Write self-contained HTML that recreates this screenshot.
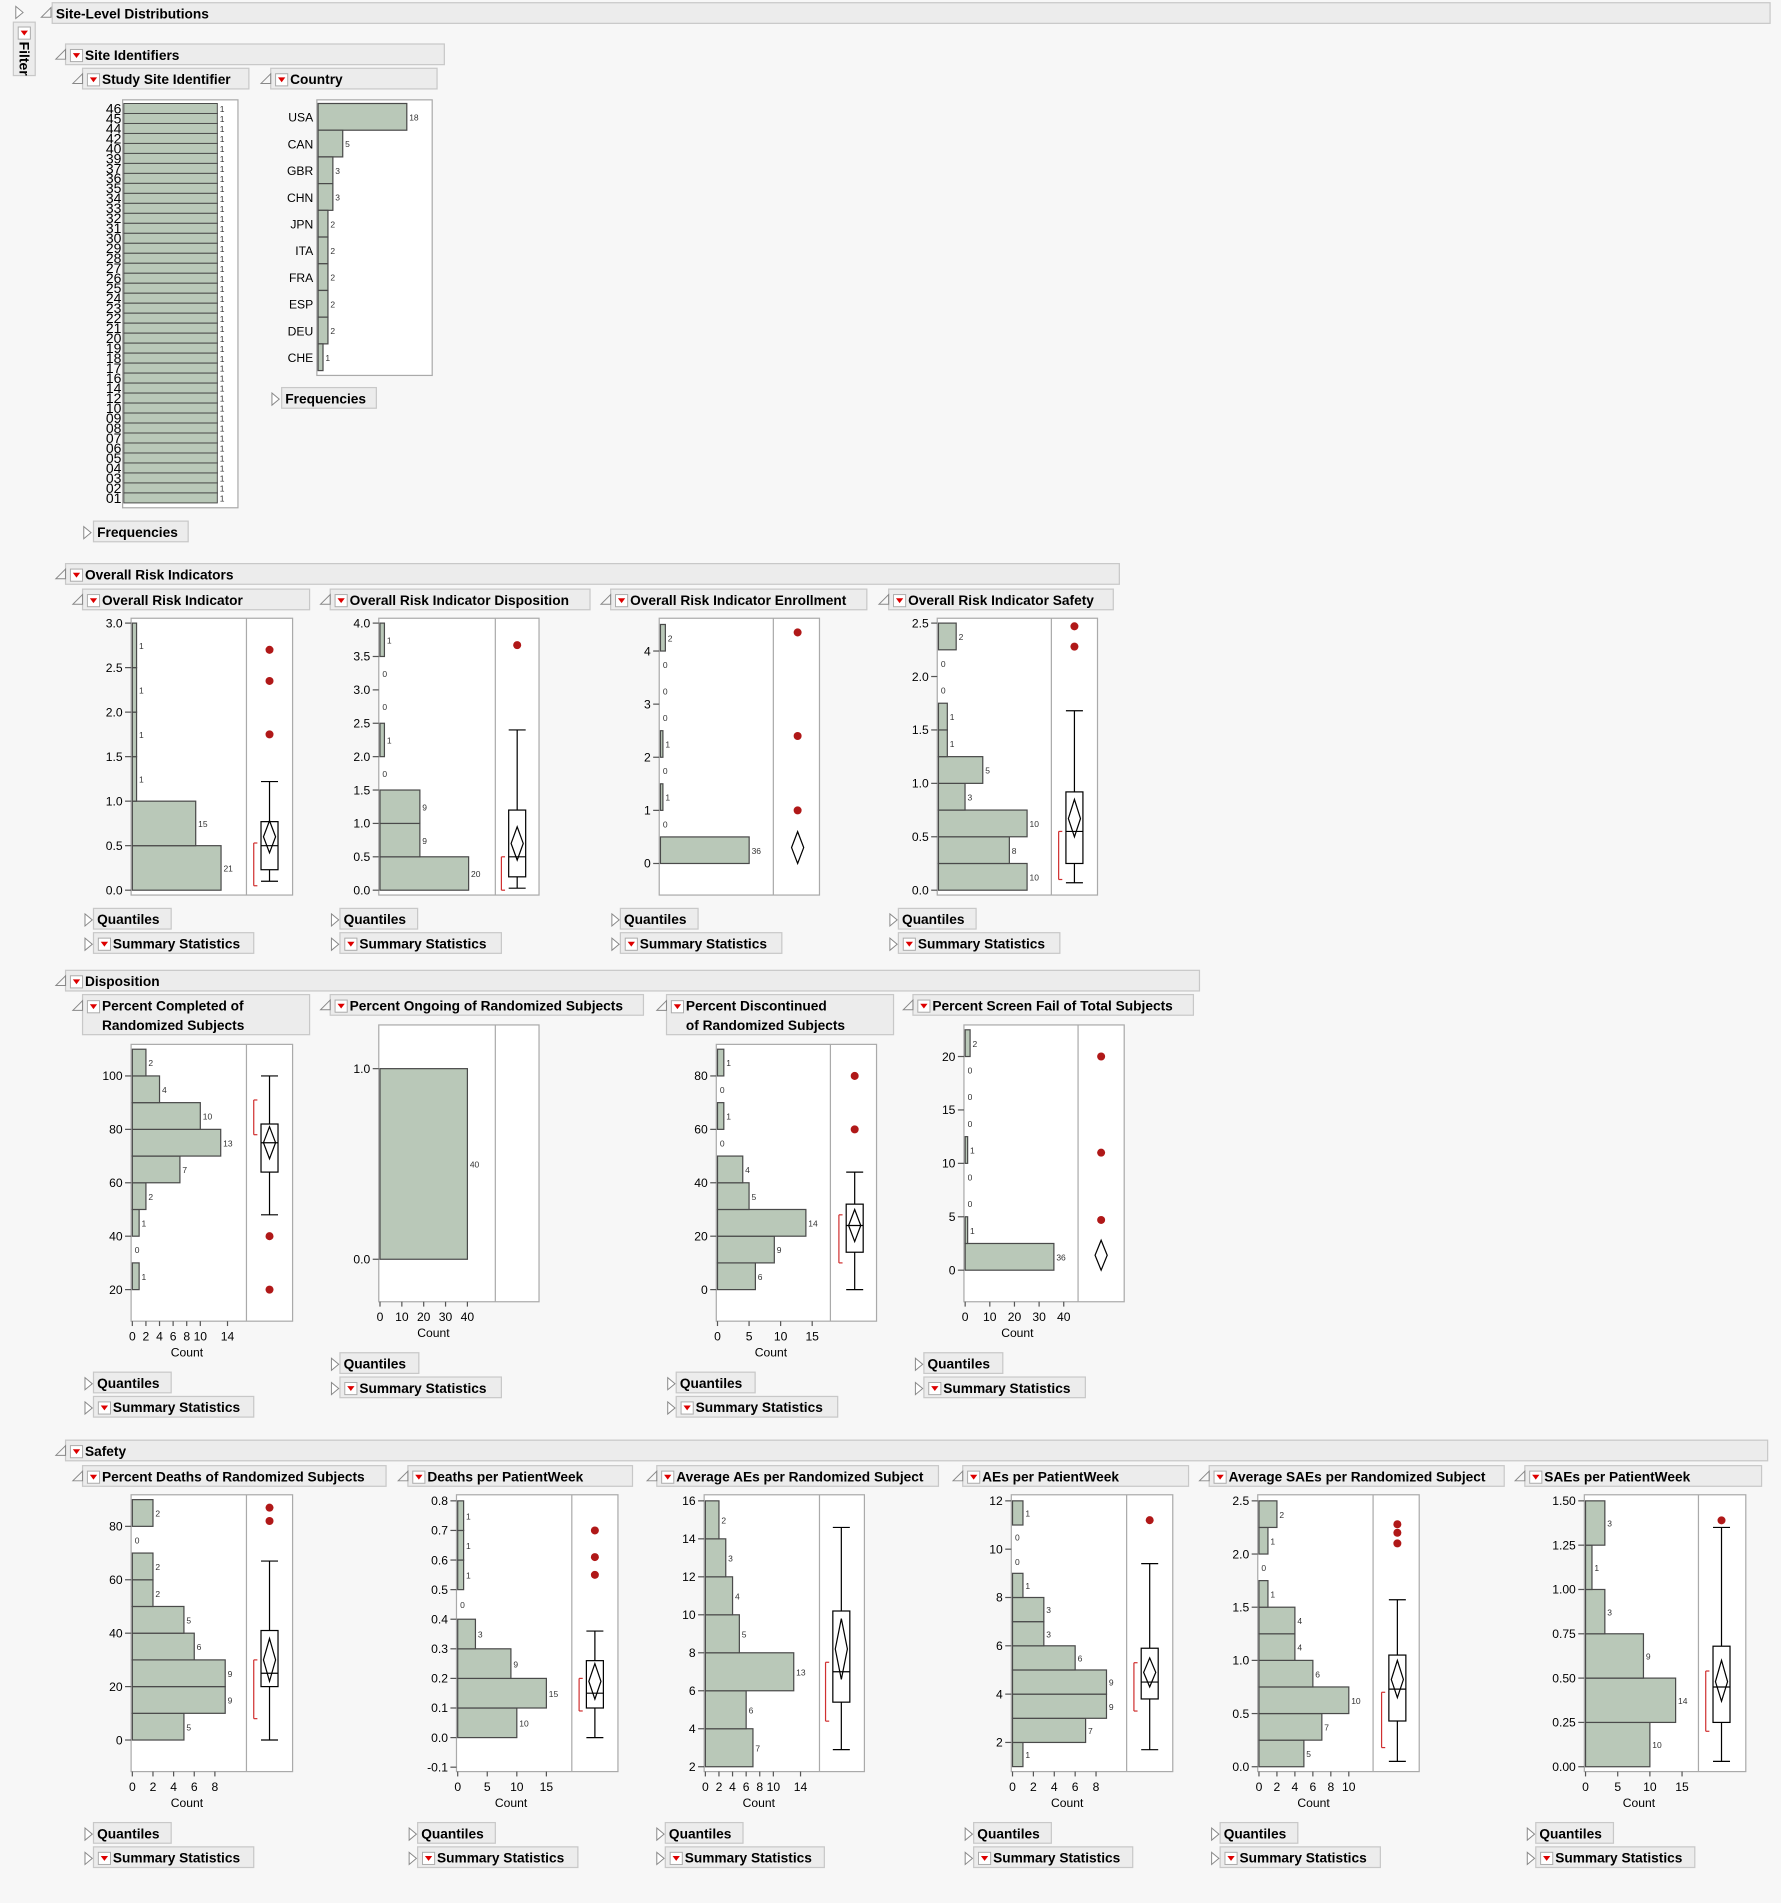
<!DOCTYPE html>
<html><head><meta charset="utf-8"><style>
html,body{margin:0;padding:0;background:#f7f7f7;}
svg{display:block;}
text{font-family:"Liberation Sans",sans-serif;}
</style></head><body>
<svg id="s" width="1781" height="1903" viewBox="0 0 1467 1567" xmlns="http://www.w3.org/2000/svg"></svg>
<script>
const S=document.getElementById('s');let H='';
function r(x,y,w,h,f,s,sw){H+=`<rect x="${x}" y="${y}" width="${w}" height="${h}" fill="${f}" stroke="${s||'none'}" stroke-width="${sw||1}"/>`;}
function l(x1,y1,x2,y2,c,w){H+=`<line x1="${x1}" y1="${y1}" x2="${x2}" y2="${y2}" stroke="${c||'#000'}" stroke-width="${w||1}"/>`;}
function t(x,y,s,sz,a,wt,c){H+=`<text x="${x}" y="${y}" font-size="${sz}" text-anchor="${a||'start'}" font-weight="${wt||'normal'}" fill="${c||'#000'}">${s}</text>`;}
function openTri(x,y){H+=`<path d="M${x+6} ${y-4} L${x+6} ${y+4} L${x-2} ${y+4} Z" fill="none" stroke="#888" stroke-width="0.8"/>`;}
function closedTri(x,y){H+=`<path d="M${x-3} ${y-5} L${x+3} ${y} L${x-3} ${y+5} Z" fill="#fff" stroke="#888" stroke-width="0.8"/>`;}
function red(x,y){r(x,y-5,10,10,'#fff','#aaa',0.8);H+=`<path d="M${x+2} ${y-2} L${x+8} ${y-2} L${x+5} ${y+2} Z" fill="#d00"/>`;}
function hdr(x1,y1,x2,y2,txt,tri,rd,closed){r(x1,y1,x2-x1,y2-y1,'#ececec','#c8c8c8',1);
 const lines=txt.split('|');const two=lines.length>1;
 const cy=two?y1+9:(y1+y2)/2; if(closed)closedTri(tri,cy+1);else openTri(tri,cy);
 let tx=x1+3; if(rd){red(x1+4,cy+1);tx=x1+16;}
 const fs=11.3;
 if(!two)t(tx,cy+4.5,txt,fs,'start','bold');
 else{t(tx,y1+13,lines[0],fs,'start','bold');t(tx,y1+29,lines[1],fs,'start','bold');}}
function qs(tri,x,y,qw,sw){hdr(x,y,x+qw,y+17,'Quantiles',tri,false,true);hdr(x,y+20,x+sw,y+37,'Summary Statistics',tri,true,true);}
function chart(o){
 const {x0,x1,xd,y0,y1}=o; r(x0,y0,x1-x0,y1-y0,'#fff','#aaa',1); l(xd,y0,xd,y1,'#aaa');
 const Y=v=>o.p1+(v-o.v1)*(o.p2-o.p1)/(o.v2-o.v1);
 o.ticks.forEach(v=>{const y=Y(v);l(x0-5,y,x0,y,'#555');t(x0-7,y+3.5,o.fmt(v),10,'end');});
 o.bins.forEach(([a,b,c])=>{const ya=Y(b),yb=Y(a);const w=c*o.cs;if(c>0)r(x0+1,ya,w,yb-ya,'#b9c8b8','#4a4a4a',1);
   t(x0+3+w,(ya+yb)/2+3,c,7,'start','normal','#333');});
 const bx=o.bx;
 if(o.br){l(bx-13,Y(o.br[0]),bx-13,Y(o.br[1]),'#d03030');l(bx-13,Y(o.br[0]),bx-10,Y(o.br[0]),'#d03030');l(bx-13,Y(o.br[1]),bx-10,Y(o.br[1]),'#d03030');}
 if(o.wh){l(bx,Y(o.wh[0]),bx,Y(o.wh[1]));l(bx-7,Y(o.wh[0]),bx+7,Y(o.wh[0]));l(bx-7,Y(o.wh[1]),bx+7,Y(o.wh[1]));}
 if(o.q){r(bx-7,Y(o.q[2]),14,Y(o.q[0])-Y(o.q[2]),'#fff','#000',1);l(bx-7,Y(o.q[1]),bx+7,Y(o.q[1]));}
 if(o.dm){const a=Y(o.dm[0]),m=Y(o.dm[1]),b=Y(o.dm[2]);H+=`<path d="M${bx} ${a} L${bx+5} ${m} L${bx} ${b} L${bx-5} ${m} Z" fill="none" stroke="#000" stroke-width="1"/>`;}
 (o.out||[]).forEach(v=>{H+=`<circle cx="${bx}" cy="${Y(v)}" r="3.3" fill="#b01818"/>`;});
 if(o.line){l(bx-8,Y(o.line),bx+7,Y(o.line));}
 if(o.xt){o.xt.forEach(c=>{const x=x0+1+c*o.cs;l(x,y1,x,y1+4,'#555');t(x,y1+16,c,10,'middle');});t(o.cx,y1+29,'Count',10,'middle');}
}
// top
r(43,2,1415,17,'#ececec','#c8c8c8',1);t(46,15,'Site-Level Distributions',11.3,'start','bold');openTri(36,10);closedTri(16,10);
r(11,18,18,44,'#ececec','#c8c8c8',1);red(15,27);H+=`<text x="0" y="0" font-size="11.5" font-weight="bold" transform="translate(16,34) rotate(90)">Filter</text>`;
hdr(54,36,366,53,'Site Identifiers',48,true);
hdr(68,56,205,73,'Study Site Identifier',62,true);
hdr(223,56,360,73,'Country',217,true);
// study site
r(101,82,95,336,'#fff','#aaa',1);
const ids=['46','45','44','42','40','39','37','36','35','34','33','32','31','30','29','28','27','26','25','24','23','22','21','20','19','18','17','16','14','12','10','09','08','07','06','05','04','03','02','01'];
const bh=(414-85)/40;
ids.forEach((s,i)=>{const y=85+i*bh;r(102,y,77,bh,'#b9c8b8','#4a4a4a',0.8);t(100,y+bh/2+4,s,11.5,'end');t(181,y+bh/2+3,'1',7,'start','normal','#333');});
// country
r(261,82,95,227,'#fff','#aaa',1);
[['USA',18],['CAN',5],['GBR',3],['CHN',3],['JPN',2],['ITA',2],['FRA',2],['ESP',2],['DEU',2],['CHE',1]].forEach(([c,n],i)=>{const y=85+i*22;r(262,y,n*4.06,22,'#b9c8b8','#4a4a4a',1);t(258,y+15,c,10,'end');t(264+n*4.06,y+14,n,7,'start','normal','#333');});
hdr(232,319,310,336,'Frequencies',227,false,true);
hdr(77,429,155,446,'Frequencies',72,false,true);
// ORI
hdr(54,464,922,481,'Overall Risk Indicators',48,true);
hdr(68,485,255,502,'Overall Risk Indicator',62,true);
hdr(272,485,486,502,'Overall Risk Indicator Disposition',266,true);
hdr(503,485,714,502,'Overall Risk Indicator Enrollment',497,true);
hdr(732,485,917,502,'Overall Risk Indicator Safety',726,true);
const f1=v=>v.toFixed(1);
chart({x0:108,x1:241,xd:203,y0:509,y1:737,v1:0,p1:733,v2:3,p2:513,ticks:[0,.5,1,1.5,2,2.5,3],fmt:f1,
 bins:[[0,.5,21],[.5,1,15],[1,1.5,1],[1.5,2,1],[2,2.5,1],[2.5,3,1]],cs:3.48,bx:222,wh:[.1,1.22],q:[.23,.5,.77],dm:[.42,.6,.78],out:[1.75,2.35,2.7],br:[.05,.53]});
chart({x0:312,x1:444,xd:408,y0:509,y1:737,v1:0,p1:733,v2:4,p2:513,ticks:[0,.5,1,1.5,2,2.5,3,3.5,4],fmt:f1,
 bins:[[0,.5,20],[.5,1,9],[1,1.5,9],[1.5,2,0],[2,2.5,1],[2.5,3,0],[3,3.5,0],[3.5,4,1]],cs:3.65,bx:426,wh:[.03,2.4],q:[.2,.5,1.2],dm:[.45,.7,.95],out:[3.67],br:[0,.5]});
chart({x0:543,x1:675,xd:637,y0:509,y1:737,v1:0,p1:711,v2:4,p2:536,ticks:[0,1,2,3,4],fmt:v=>v,
 bins:[[0,.5,36],[.5,1,0],[1,1.5,1],[1.5,2,0],[2,2.5,1],[2.5,3,0],[3,3.5,0],[3.5,4,0],[4,4.5,2]],cs:2.03,bx:657,dm:[0,.3,.6],line:0,out:[4.35,2.4,1.0]});
chart({x0:772,x1:904,xd:866,y0:509,y1:737,v1:0,p1:733,v2:2.5,p2:513,ticks:[0,.5,1,1.5,2,2.5],fmt:f1,
 bins:[[0,.25,10],[.25,.5,8],[.5,.75,10],[.75,1,3],[1,1.25,5],[1.25,1.5,1],[1.5,1.75,1],[1.75,2,0],[2,2.25,0],[2.25,2.5,2]],cs:7.3,bx:885,wh:[.07,1.68],q:[.25,.55,.92],dm:[.5,.67,.85],out:[2.28,2.47],br:[.1,.55]});
qs(73,77,748,64,132);qs(276,280,748,64,133);qs(507,511,748,64,133);qs(736,740,748,64,133);
// Disposition
hdr(54,799,988,816,'Disposition',48,true);
hdr(68,819,255,852,'Percent Completed of|Randomized Subjects',62,true);
hdr(272,819,530,836,'Percent Ongoing of Randomized Subjects',266,true);
hdr(549,819,736,852,'Percent Discontinued|of Randomized Subjects',543,true);
hdr(752,819,983,836,'Percent Screen Fail of Total Subjects',746,true);
chart({x0:108,x1:241,xd:203,y0:860,y1:1088,v1:20,p1:1062,v2:100,p2:886,ticks:[20,40,60,80,100],fmt:v=>v,
 bins:[[20,30,1],[30,40,0],[40,50,1],[50,60,2],[60,70,7],[70,80,13],[80,90,10],[90,100,4],[100,110,2]],cs:5.6,bx:222,wh:[48,100],q:[64,75,82],dm:[69,75,81],out:[40,20],br:[78,91],xt:[0,2,4,6,8,10,14],cx:154});
chart({x0:312,x1:444,xd:408,y0:844,y1:1072,v1:0,p1:1037,v2:1,p2:880,ticks:[0,1],fmt:f1,
 bins:[[0,1,40]],cs:1.8,bx:426,line:0,xt:[0,10,20,30,40],cx:357});
chart({x0:590,x1:722,xd:684,y0:860,y1:1088,v1:0,p1:1062,v2:80,p2:886,ticks:[0,20,40,60,80],fmt:v=>v,
 bins:[[0,10,6],[10,20,9],[20,30,14],[30,40,5],[40,50,4],[50,60,0],[60,70,1],[70,80,0],[80,90,1]],cs:5.2,bx:704,wh:[0,44],q:[14,24,32],dm:[18,24,30],out:[80,60],br:[10,28],xt:[0,5,10,15],cx:635});
chart({x0:794,x1:926,xd:888,y0:844,y1:1072,v1:0,p1:1046,v2:20,p2:870,ticks:[0,5,10,15,20],fmt:v=>v,
 bins:[[0,2.5,36],[2.5,5,1],[5,7.5,0],[7.5,10,0],[10,12.5,1],[12.5,15,0],[15,17.5,0],[17.5,20,0],[20,22.5,2]],cs:2.03,bx:907,dm:[0,1.4,2.8],line:0,out:[20,11,4.7],xt:[0,10,20,30,40],cx:838});
qs(73,77,1130,64,132);qs(276,280,1114,65,133);qs(553,557,1130,65,133);qs(757,761,1114,65,133);
// Safety
hdr(54,1186,1456,1203,'Safety',48,true);
hdr(68,1207,318,1224,'Percent Deaths of Randomized Subjects',62,true);
hdr(336,1207,521,1224,'Deaths per PatientWeek',330,true);
hdr(541,1207,773,1224,'Average AEs per Randomized Subject',535,true);
hdr(793,1207,979,1224,'AEs per PatientWeek',787,true);
hdr(996,1207,1239,1224,'Average SAEs per Randomized Subject',990,true);
hdr(1256,1207,1451,1224,'SAEs per PatientWeek',1250,true);
chart({x0:108,x1:241,xd:203,y0:1231,y1:1459,v1:0,p1:1433,v2:80,p2:1257,ticks:[0,20,40,60,80],fmt:v=>v,
 bins:[[0,10,5],[10,20,9],[20,30,9],[30,40,6],[40,50,5],[50,60,2],[60,70,2],[70,80,0],[80,90,2]],cs:8.5,bx:222,wh:[0,67],q:[20,25,41],dm:[22,30,38],out:[82,87],br:[8,30],xt:[0,2,4,6,8],cx:154});
chart({x0:376,x1:509,xd:471,y0:1231,y1:1459,v1:0,p1:1431,v2:.8,p2:1236,ticks:[-.1,0,.1,.2,.3,.4,.5,.6,.7,.8],fmt:f1,
 bins:[[0,.1,10],[.1,.2,15],[.2,.3,9],[.3,.4,3],[.4,.5,0],[.5,.6,1],[.6,.7,1],[.7,.8,1]],cs:4.87,bx:490,wh:[0,.36],q:[.1,.15,.26],dm:[.13,.19,.25],out:[.55,.61,.7],br:[.09,.2],xt:[0,5,10,15],cx:421});
chart({x0:580,x1:712,xd:675,y0:1231,y1:1459,v1:2,p1:1455,v2:16,p2:1236,ticks:[2,4,6,8,10,12,14,16],fmt:v=>v,
 bins:[[2,4,7],[4,6,6],[6,8,13],[8,10,5],[10,12,4],[12,14,3],[14,16,2]],cs:5.6,bx:693,wh:[2.9,14.6],q:[5.4,7,10.2],dm:[6.6,8.2,9.8],br:[4.4,7.5],xt:[0,2,4,6,8,10,14],cx:625});
chart({x0:833,x1:966,xd:928,y0:1231,y1:1459,v1:2,p1:1435,v2:12,p2:1236,ticks:[2,4,6,8,10,12],fmt:v=>v,
 bins:[[1,2,1],[2,3,7],[3,4,9],[4,5,9],[5,6,6],[6,7,3],[7,8,3],[8,9,1],[9,10,0],[10,11,0],[11,12,1]],cs:8.6,bx:947,wh:[1.7,9.4],q:[3.8,4.5,5.9],dm:[4.3,4.9,5.5],out:[11.2],br:[3.3,5.3],xt:[0,2,4,6,8],cx:879});
chart({x0:1036,x1:1169,xd:1131,y0:1231,y1:1459,v1:0,p1:1455,v2:2.5,p2:1236,ticks:[0,.5,1,1.5,2,2.5],fmt:f1,
 bins:[[0,.25,5],[.25,.5,7],[.5,.75,10],[.75,1,6],[1,1.25,4],[1.25,1.5,4],[1.5,1.75,1],[1.75,2,0],[2,2.25,1],[2.25,2.5,2]],cs:7.4,bx:1151,wh:[.05,1.57],q:[.43,.73,1.05],dm:[.65,.82,1.0],out:[2.1,2.2,2.28],br:[.18,.7],xt:[0,2,4,6,8,10],cx:1082});
chart({x0:1305,x1:1438,xd:1399,y0:1231,y1:1459,v1:0,p1:1455,v2:1.5,p2:1236,ticks:[0,.25,.5,.75,1,1.25,1.5],fmt:v=>v.toFixed(2),
 bins:[[0,.25,10],[.25,.5,14],[.5,.75,9],[.75,1,3],[1,1.25,1],[1.25,1.5,3]],cs:5.3,bx:1418,wh:[.03,1.35],q:[.25,.45,.68],dm:[.37,.48,.6],out:[1.39],br:[.2,.54],xt:[0,5,10,15],cx:1350});
qs(73,77,1501,64,132);qs(340,344,1501,64,132);qs(544,548,1501,64,131);qs(798,802,1501,64,131);qs(1001,1005,1501,64,132);qs(1261,1265,1501,64,131);
S.innerHTML=H;
</script>
</body></html>
